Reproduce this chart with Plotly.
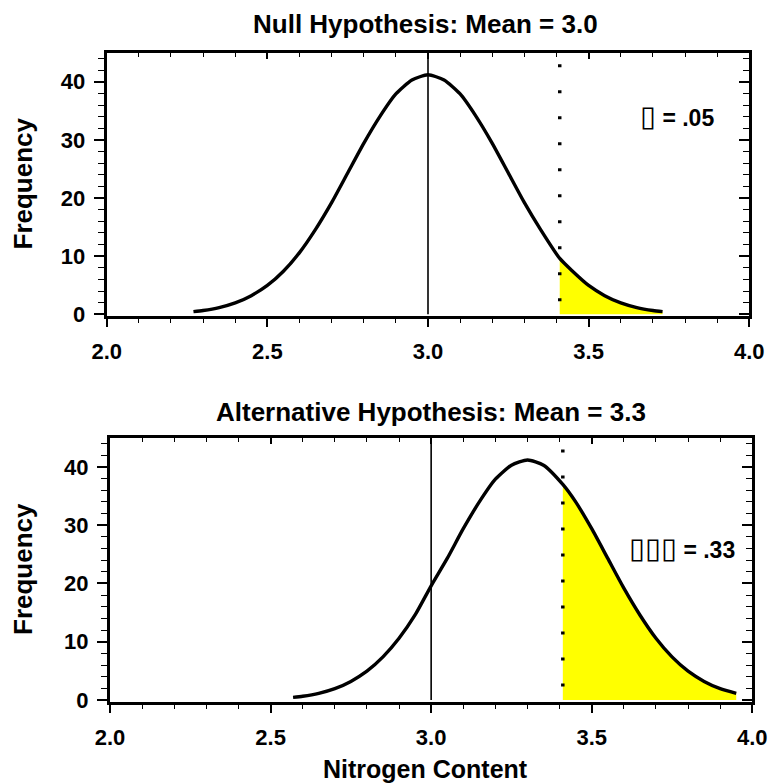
import plotly.graph_objects as go

W, H = 770, 784

# ---- data ----
null_x = [2.27, 2.30, 2.35, 2.40, 2.45, 2.50, 2.55, 2.60, 2.65, 2.70, 2.75, 2.80, 2.85, 2.90, 2.95,
          3.00, 3.05, 3.10, 3.15, 3.20, 3.25, 3.30, 3.35, 3.41, 3.45, 3.50, 3.55, 3.60, 3.65, 3.70, 3.73]
null_y = [0.45, 0.65, 1.15, 1.95, 3.2, 4.95, 7.4, 10.6, 14.6, 19.2, 24.3, 29.4, 34.0, 37.9, 40.3,
          41.2, 40.3, 37.9, 34.0, 29.4, 24.3, 19.2, 14.6, 9.6, 7.4, 4.95, 3.2, 1.95, 1.15, 0.65, 0.45]

alt_x = [2.57, 2.60, 2.65, 2.70, 2.75, 2.80, 2.85, 2.90, 2.95, 3.00, 3.05, 3.10, 3.15, 3.20, 3.25,
         3.30, 3.35, 3.41, 3.45, 3.50, 3.55, 3.60, 3.65, 3.70, 3.75, 3.80, 3.85, 3.90, 3.95]
alt_y = [0.45, 0.65, 1.15, 1.95, 3.2, 4.95, 7.4, 10.6, 14.6, 19.6, 24.3, 29.4, 34.0, 37.9, 40.3,
         41.2, 40.3, 37.0, 34.0, 29.4, 24.3, 19.2, 14.6, 10.6, 7.4, 4.95, 3.2, 1.95, 1.15]

critical_value = 3.41
null_mean = 3.0
dotted_top = 43
frame_top = 45

titles = ["Null Hypothesis: Mean = 3.0", "Alternative Hypothesis: Mean = 3.3"]
label_symbols = ["\u25af", "\u25af\u25af\u25af"]
label_values = [" = .05", " = .33"]
x_title = "Nitrogen Content"
y_title = "Frequency"

FONT = "Liberation Sans, Arial, sans-serif"
YELLOW = "#ffff00"

fig = go.Figure()

panels = [
    dict(xa="x", ya="y", ox="x3", oy="y3", cx=null_x, cy=null_y),
    dict(xa="x2", ya="y2", ox="x4", oy="y4", cx=alt_x, cy=alt_y),
]

for p in panels:
    tail_x = [x for x in p["cx"] if x >= critical_value]
    tail_y = [y for x, y in zip(p["cx"], p["cy"]) if x >= critical_value]
    fig.add_trace(go.Scatter(x=tail_x, y=tail_y, mode="lines", fill="tozeroy",
                             fillcolor=YELLOW, line=dict(width=0, color=YELLOW, shape="spline"),
                             xaxis=p["xa"], yaxis=p["ya"], hoverinfo="skip"))
    fig.add_trace(go.Scatter(x=[null_mean, null_mean], y=[0, frame_top], mode="lines",
                             line=dict(color="black", width=1.6),
                             xaxis=p["xa"], yaxis=p["ya"], hoverinfo="skip"))
    fig.add_trace(go.Scatter(x=[critical_value, critical_value], y=[dotted_top, 0], mode="lines",
                             line=dict(color="black", width=3.5, dash="3px,23px"),
                             xaxis=p["xa"], yaxis=p["ya"], hoverinfo="skip"))
    fig.add_trace(go.Scatter(x=p["cx"], y=p["cy"], mode="lines",
                             line=dict(color="black", width=3.4, shape="spline", smoothing=0.6),
                             xaxis=p["xa"], yaxis=p["ya"]))
    fig.add_trace(go.Scatter(x=[], y=[], xaxis=p["ox"], yaxis=p["oy"], showlegend=False))

tickfont = dict(family=FONT, size=22, color="black", weight="bold")

def px_dom_x(a, b):
    return [a / W, b / W]

def px_dom_y(top, bottom):
    return [1 - bottom / H, 1 - top / H]

xr = [2, 4]
yr = [-0.25, 45]

common_x = dict(range=xr, showgrid=False, zeroline=False, showline=True, linewidth=3,
                linecolor="black", mirror=True, ticks="outside", ticklen=8, tickwidth=1.5,
                tickcolor="black", tick0=2, dtick=0.5, tickformat=".1f", tickfont=tickfont,
                minor=dict(dtick=0.1, ticks="outside", ticklen=4, tickwidth=1, tickcolor="black"),
                ticklabelstandoff=6, automargin=False)
common_y = dict(range=yr, showgrid=False, zeroline=False, showline=True, linewidth=3,
                linecolor="black", mirror=True, ticks="outside", ticklen=10, tickwidth=1.5,
                tickcolor="black", tick0=0, dtick=10, tickfont=tickfont,
                minor=dict(dtick=2, ticks="outside", ticklen=6, tickwidth=1, tickcolor="black"),
                ticklabelstandoff=4, automargin=False)
ov_x = dict(range=xr, showgrid=False, zeroline=False, showline=False, ticks="inside", ticklen=6,
            tickwidth=1.5, tickcolor="black", tick0=2, dtick=0.5, showticklabels=False, side="top",
            minor=dict(dtick=0.1, ticks="inside", ticklen=4, tickwidth=1, tickcolor="black"),
            automargin=False)
ov_y = dict(range=yr, showgrid=False, zeroline=False, showline=False, ticks="inside", ticklen=10,
            tickwidth=1.5, tickcolor="black", tick0=0, dtick=10, showticklabels=False, side="right",
            minor=dict(dtick=2, ticks="inside", ticklen=6, tickwidth=1, tickcolor="black"),
            automargin=False)

top_xd = px_dom_x(106.7, 749.3)
top_yd = px_dom_y(52.7, 315.7)
bot_xd = px_dom_x(110, 752.3)
bot_yd = px_dom_y(437.8, 701.5)

fig.update_layout(
    template="none",
    width=W, height=H, margin=dict(l=0, r=0, t=0, b=0, pad=0, autoexpand=False),
    paper_bgcolor="white", plot_bgcolor="white", showlegend=False,
    xaxis=dict(domain=top_xd, anchor="y", **common_x),
    yaxis=dict(domain=top_yd, anchor="x", **common_y),
    xaxis2=dict(domain=bot_xd, anchor="y2", **common_x),
    yaxis2=dict(domain=bot_yd, anchor="x2", **common_y),
    xaxis3=dict(overlaying="x", anchor="y", **ov_x),
    yaxis3=dict(overlaying="y", anchor="x", **ov_y),
    xaxis4=dict(overlaying="x2", anchor="y2", **ov_x),
    yaxis4=dict(overlaying="y2", anchor="x2", **ov_y),
)

def ann(text, x, y, size, xanchor="center", angle=0):
    fig.add_annotation(text=text, x=x / W, y=1 - y / H, xref="paper", yref="paper",
                       xanchor=xanchor, yanchor="middle", showarrow=False, textangle=angle,
                       font=dict(family=FONT, size=size, color="black", weight="bold"))

ann(titles[0], 426, 24, 26)
ann(titles[1], 431, 412, 26)
ann(y_title, 23, 183.5, 26, angle=-90)
ann(y_title, 23, 569, 26, angle=-90)
ann(x_title, 425, 769, 25)
for sym, val, (lx, ly) in zip(label_symbols, label_values, [(716, 116), (737, 548)]):
    txt = "<span style='font-size:29px;font-weight:normal'>" + sym + "</span>" + val
    ann(txt, lx, ly, 23, xanchor="right")

fig.write_html("out.html")
